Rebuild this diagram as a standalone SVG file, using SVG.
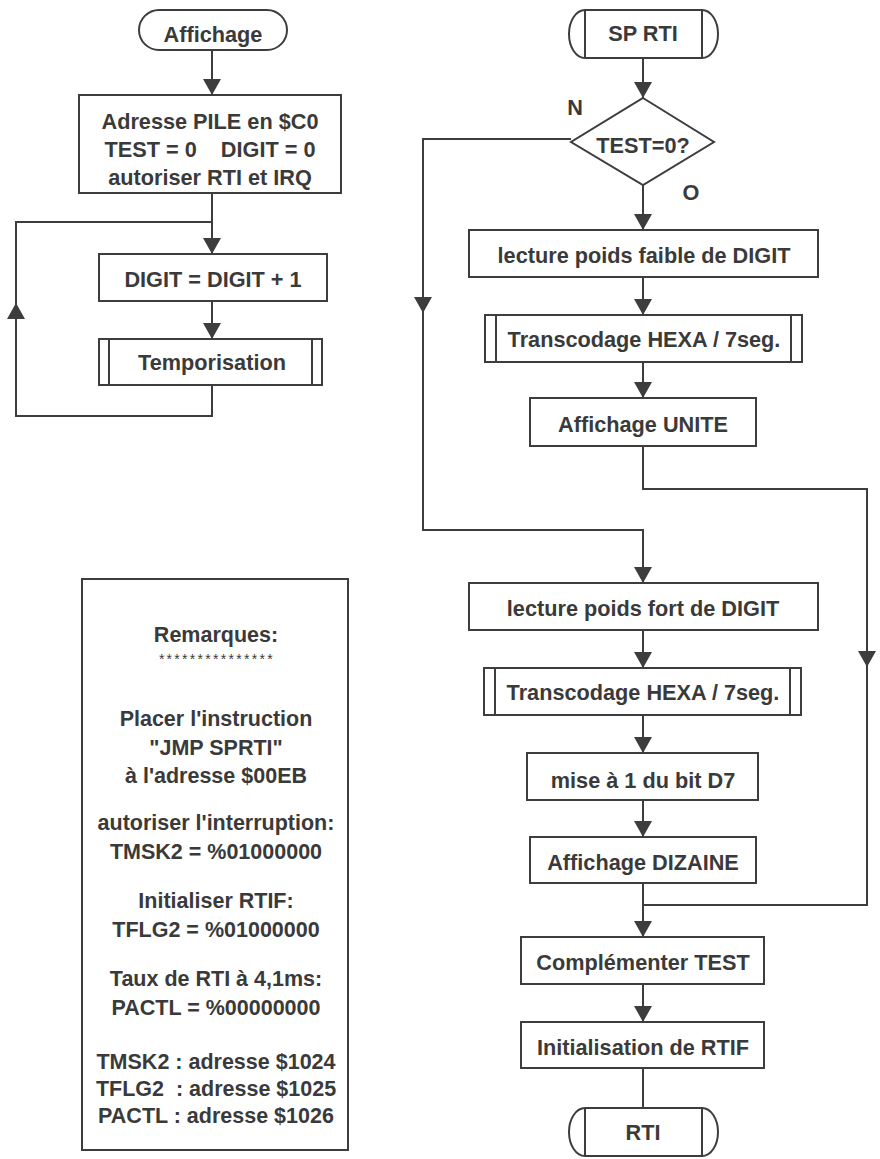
<svg xmlns="http://www.w3.org/2000/svg" width="880" height="1159" viewBox="0 0 880 1159">
<defs>
<style>
.box{fill:#fff;stroke:#3d3d3d;stroke-width:2}
.ln{fill:none;stroke:#3d3d3d;stroke-width:2}
.t{font-family:"Liberation Sans",Arial,sans-serif;font-weight:bold;font-size:21.7px;fill:#3a3a3a;text-anchor:middle}
.r{font-family:"Liberation Sans",Arial,sans-serif;font-weight:bold;font-size:21.5px;fill:#3a3a3a;text-anchor:middle}
.s{font-family:"Liberation Sans",Arial,sans-serif;font-size:14px;letter-spacing:2.3px;fill:#3a3a3a;text-anchor:middle}
</style>
<marker id="ah" markerUnits="userSpaceOnUse" markerWidth="20" markerHeight="18" refX="16" refY="9" orient="auto">
<path d="M0,0 L16,9 L0,18 Z" fill="#3d3d3d"/>
</marker>
</defs>
<rect width="880" height="1159" fill="#fff"/>

<g id="connectors">
<path class="ln" d="M212,50 V95" marker-end="url(#ah)"/>
<path class="ln" d="M212,193 V254" marker-end="url(#ah)"/>
<path class="ln" d="M212,301 V339" marker-end="url(#ah)"/>
<path class="ln" d="M212,385 V416 H16 V303" marker-end="url(#ah)"/>
<path class="ln" d="M16,304 V222 H212"/>
<path class="ln" d="M643,58 V98" marker-end="url(#ah)"/>
<path class="ln" d="M643,185 V230" marker-end="url(#ah)"/>
<path class="ln" d="M643,277 V315" marker-end="url(#ah)"/>
<path class="ln" d="M643,362 V398" marker-end="url(#ah)"/>
<path class="ln" d="M643,446 V489 H867 V667" marker-end="url(#ah)"/>
<path class="ln" d="M867,666 V905 H643"/>
<path class="ln" d="M571,139 H423 V313" marker-end="url(#ah)"/>
<path class="ln" d="M423,312 V530 H643 V583" marker-end="url(#ah)"/>
<path class="ln" d="M643,630 V668" marker-end="url(#ah)"/>
<path class="ln" d="M643,715 V753" marker-end="url(#ah)"/>
<path class="ln" d="M643,800 V837" marker-end="url(#ah)"/>
<path class="ln" d="M643,883 V937" marker-end="url(#ah)"/>
<path class="ln" d="M643,984 V1022" marker-end="url(#ah)"/>
<path class="ln" d="M643,1068 V1108"/>
</g>

<g id="affichage">
<rect class="box" x="139" y="10" width="148" height="40" rx="20" ry="20"/>
<text class="t" x="213" y="42">Affichage</text>
</g>
<g id="init">
<rect class="box" x="79" y="95" width="262" height="98"/>
<text class="t" x="210" y="129">Adresse PILE en $C0</text>
<text class="t" x="210" y="157" xml:space="preserve">TEST = 0    DIGIT = 0</text>
<text class="t" x="210" y="185">autoriser RTI et IRQ</text>
</g>
<g id="digit">
<rect class="box" x="99" y="254" width="228" height="47"/>
<text class="t" x="213" y="287">DIGIT = DIGIT + 1</text>
</g>
<g id="tempo">
<rect class="box" x="99" y="339" width="223" height="46"/>
<line class="ln" x1="109" y1="339" x2="109" y2="385"/>
<line class="ln" x1="312" y1="339" x2="312" y2="385"/>
<text class="t" x="212" y="370">Temporisation</text>
</g>

<g id="remarques">
<rect class="box" x="82" y="579" width="266" height="571"/>
<text class="r" x="216" y="642">Remarques:</text>
<text class="s" x="217" y="664">***************</text>
<text class="r" x="216" y="726">Placer l'instruction</text>
<text class="r" x="216" y="755">"JMP SPRTI"</text>
<text class="r" x="216" y="783">à l'adresse $00EB</text>
<text class="r" x="216" y="830">autoriser l'interruption:</text>
<text class="r" x="216" y="859">TMSK2 = %01000000</text>
<text class="r" x="216" y="908">Initialiser RTIF:</text>
<text class="r" x="216" y="937">TFLG2 = %01000000</text>
<text class="r" x="216" y="986">Taux de RTI à 4,1ms:</text>
<text class="r" x="216" y="1015">PACTL = %00000000</text>
<text class="r" x="216" y="1069">TMSK2 : adresse $1024</text>
<text class="r" x="216" y="1096" xml:space="preserve">TFLG2  : adresse $1025</text>
<text class="r" x="216" y="1123">PACTL : adresse $1026</text>
</g>

<g id="sprti">
<path class="box" d="M585,10 H702 A16,24 0 0 1 702,58 H585 A16,24 0 0 1 585,10 Z"/>
<line class="ln" x1="585" y1="10" x2="585" y2="58"/>
<line class="ln" x1="702" y1="10" x2="702" y2="58"/>
<text class="t" x="643" y="41">SP RTI</text>
</g>
<g id="test">
<path class="box" d="M643,98 L714,142 L643,185 L571,142 Z"/>
<text class="t" x="643" y="153">TEST=0?</text>
<text class="t" x="575" y="115">N</text>
<text class="t" x="691" y="200">O</text>
</g>
<g id="faible">
<rect class="box" x="469" y="230" width="349" height="47"/>
<text class="t" x="644" y="263">lecture poids faible de DIGIT</text>
</g>
<g id="trans1">
<rect class="box" x="485" y="315" width="317" height="47"/>
<line class="ln" x1="496" y1="315" x2="496" y2="362"/>
<line class="ln" x1="791" y1="315" x2="791" y2="362"/>
<text class="t" x="644" y="347">Transcodage HEXA / 7seg.</text>
</g>
<g id="unite">
<rect class="box" x="530" y="398" width="226" height="48"/>
<text class="t" x="643" y="432">Affichage UNITE</text>
</g>
<g id="fort">
<rect class="box" x="469" y="583" width="349" height="47"/>
<text class="t" x="643" y="616">lecture poids fort de DIGIT</text>
</g>
<g id="trans2">
<rect class="box" x="484" y="668" width="317" height="47"/>
<line class="ln" x1="495" y1="668" x2="495" y2="715"/>
<line class="ln" x1="790" y1="668" x2="790" y2="715"/>
<text class="t" x="643" y="700">Transcodage HEXA / 7seg.</text>
</g>
<g id="bit">
<rect class="box" x="527" y="753" width="231" height="47"/>
<text class="t" x="643" y="788">mise à 1 du bit D7</text>
</g>
<g id="dizaine">
<rect class="box" x="530" y="837" width="226" height="46"/>
<text class="t" x="643" y="870">Affichage DIZAINE</text>
</g>
<g id="compl">
<rect class="box" x="521" y="937" width="243" height="47"/>
<text class="t" x="643" y="970">Complémenter TEST</text>
</g>
<g id="initrtif">
<rect class="box" x="521" y="1022" width="243" height="46"/>
<text class="t" x="643" y="1055">Initialisation de RTIF</text>
</g>
<g id="rti">
<path class="box" d="M585,1108 H702 A16,24 0 0 1 702,1156 H585 A16,24 0 0 1 585,1108 Z"/>
<line class="ln" x1="585" y1="1108" x2="585" y2="1156"/>
<line class="ln" x1="702" y1="1108" x2="702" y2="1156"/>
<text class="t" x="643" y="1140">RTI</text>
</g>
</svg>
